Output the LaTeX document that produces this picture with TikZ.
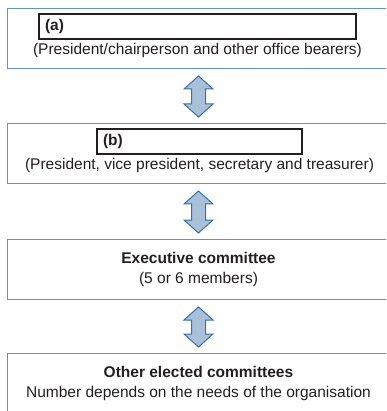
\documentclass[tikz,border=0pt]{standalone}
\usepackage{fontspec}
\setmainfont{Liberation Sans}
\usetikzlibrary{
    positioning,
    calc
}
\definecolor{frameblue}{HTML}{6392C8}
\definecolor{arrowblue}{HTML}{3470B2}
\definecolor{arrowfill}{HTML}{A8C0D8}
\definecolor{textgrey}{HTML}{231F20}
\tikzset{
    % Colors
    frame color/.style={draw=frameblue},
    ink color/.style={text=textgrey},
    %
    % Boxes
    level box/.style={frame color,line width=1pt,minimum width=383pt,minimum height=60pt,inner sep=0pt,align=center},
    blank box/.style={draw=textgrey,line width=1.3pt,minimum height=25pt,inner xsep=6pt,inner ysep=0pt,align=left,font=\fontsize{15.5}{19.5}\selectfont\bfseries},
    caption/.style={inner sep=0pt},
    %
    % Arrows
    updown/.style={draw=arrowblue,fill=arrowfill,line width=1pt,line join=miter,
        to path={let \p1=($(\tikztostart.south)+(0,-7pt)$), \p2=($(\tikztotarget.north)+(0,6pt)$) in
            (\x1,\y1) -- (\x1+14.5pt,\y1-13pt) -- (\x1+7pt,\y1-13pt) -- (\x1+7pt,\y2+13pt) -- (\x1+14.5pt,\y2+13pt)
            -- (\x1,\y2) -- (\x1-14.5pt,\y2+13pt) -- (\x1-7pt,\y2+13pt) -- (\x1-7pt,\y1-13pt) -- (\x1-14.5pt,\y1-13pt) -- cycle}}
}
\tikzstyle{every node}=[font=\fontsize{15.5}{19.5}\selectfont,ink color]

\begin{document}
\begin{tikzpicture}[x=1pt,y=1pt]
    \useasboundingbox (0,0) rectangle (386,-411);
    \clip (0,0) rectangle (386,-411);
    \node[level box] (top) at (198.5,-38.5) {};
    \node[level box,below=54pt of top] (office) {};
    \node[level box,below=55pt of office] (exec) {\textbf{Executive committee}\\(5 or 6 members)};
    \node[level box,below=53pt of exec] (other) {\textbf{Other elected committees}\\Number depends on the needs of the organisation};
    % blanks to fill in
    \node[blank box,text width=305pt,below=5.5pt of top.north,xshift=-1pt] (blanka) {(a)};
    \node[caption,below=3pt of blanka] (texta) {(President/chairperson and other office bearers)};
    \node[blank box,text width=193pt,below=5.5pt of office.north,xshift=1pt] (blankb) {(b)};
    \node[caption,below=3pt of blankb] (textb) {(President, vice president, secretary and treasurer)};
    % two way arrows
    \foreach \a/\b in {top/office,office/exec,exec/other}{
        \draw[updown] (\a) to (\b);
    }
\end{tikzpicture}
\end{document}
